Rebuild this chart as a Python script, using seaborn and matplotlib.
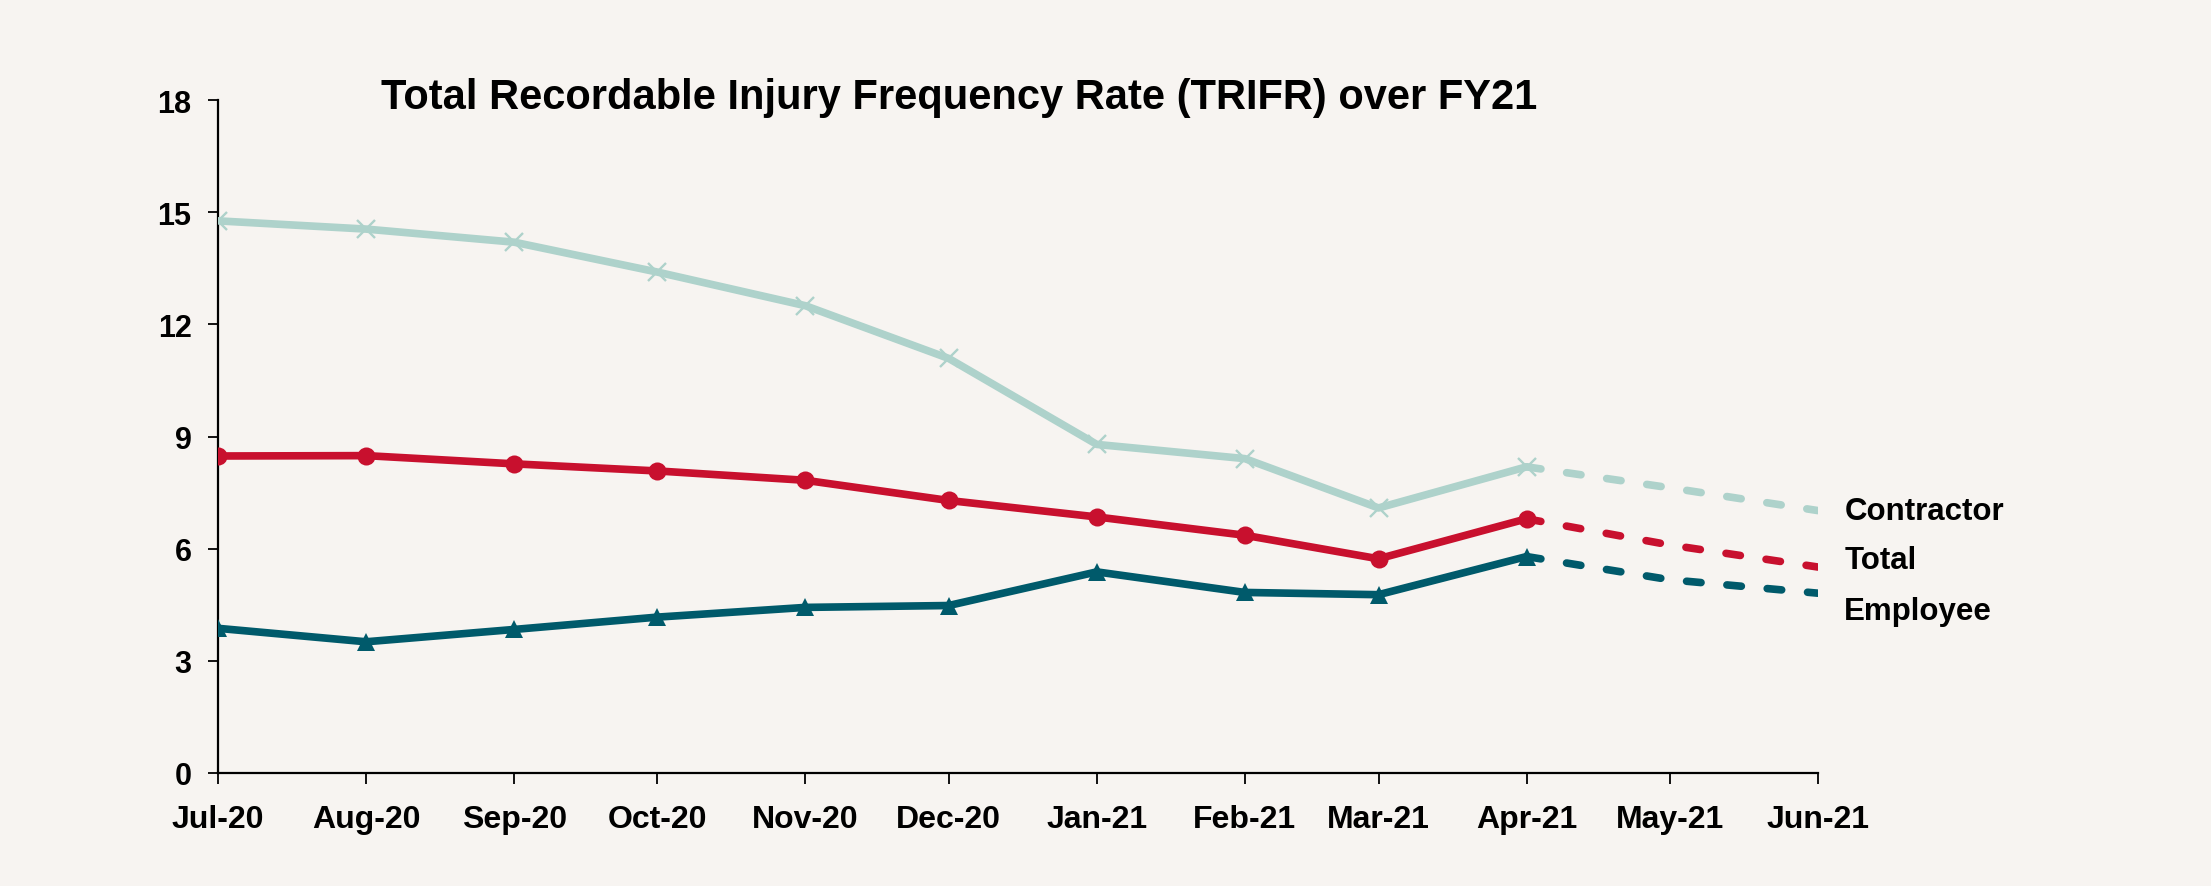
import matplotlib
matplotlib.use("Agg")
import matplotlib.pyplot as plt
import matplotlib.dates as mdates
import seaborn as sns
import pandas as pd

# Monthly TRIFR, FY21 actuals (Jul-20 to Apr-21) and outlook (Apr-21 to Jun-21)
months = ["2020-07-01", "2020-08-01", "2020-09-01", "2020-10-01", "2020-11-01",
          "2020-12-01", "2021-01-01", "2021-02-01", "2021-03-01", "2021-04-01"]
contractor = [14.77, 14.55, 14.20, 13.40, 12.50, 11.09, 8.79, 8.41, 7.09, 8.19]
total = [8.48, 8.49, 8.27, 8.08, 7.83, 7.29, 6.85, 6.36, 5.73, 6.80]
employee = [3.87, 3.51, 3.84, 4.17, 4.43, 4.48, 5.38, 4.83, 4.77, 5.79]

outlook_months = ["2021-04-01", "2021-05-01", "2021-06-01"]
contractor_outlook = [8.19, 7.63, 7.02]
total_outlook = [6.80, 6.10, 5.51]
employee_outlook = [5.79, 5.17, 4.81]

tick_months = ["2020-07-01", "2020-08-01", "2020-09-01", "2020-10-01", "2020-11-01",
               "2020-12-01", "2021-01-01", "2021-02-01", "2021-03-01", "2021-04-01",
               "2021-05-01", "2021-06-01"]
y_ticks = [0, 3, 6, 9, 12, 15, 18]

title = "Total Recordable Injury Frequency Rate (TRIFR) over FY21"

BG = "#F7F4F1"
colors = {"Contractor": "#AED2CB", "Total": "#C8102E", "Employee": "#005A6B"}

sns.set_theme(style="ticks")
plt.rcParams["font.family"] = ["Liberation Sans", "DejaVu Sans"]
plt.rcParams["font.weight"] = "bold"

actual = pd.DataFrame({
    "month": pd.to_datetime(months * 3),
    "value": contractor + total + employee,
    "series": ["Contractor"] * len(months) + ["Total"] * len(months) + ["Employee"] * len(months),
})
outlook = pd.DataFrame({
    "month": pd.to_datetime(outlook_months * 3),
    "value": contractor_outlook + total_outlook + employee_outlook,
    "series": ["Contractor"] * 3 + ["Total"] * 3 + ["Employee"] * 3,
})

fig = plt.figure(figsize=(22.11, 8.87), dpi=100, facecolor=BG)
ax = fig.add_axes([0.0986, 0.1274, 0.7236, 0.7586])
ax.set_facecolor(BG)

LW = 5.5
marker_style = {
    "Contractor": dict(marker="x", markersize=12.5, markeredgewidth=1.7),
    "Total": dict(marker="o", markersize=13, markeredgewidth=0),
    "Employee": dict(marker="^", markersize=13.5, markeredgewidth=0),
}

# dashed outlook drawn first so the April markers sit on top
for name in ["Contractor", "Total", "Employee"]:
    sub = outlook[outlook["series"] == name]
    sns.lineplot(data=sub, x="month", y="value", ax=ax, color=colors[name],
                 linewidth=LW, dashes=False, legend=False, zorder=2)
    line = ax.lines[-1]
    line.set_dashes((1.9, 3.4))
    line.set_dash_capstyle("round")

for name in ["Contractor", "Total", "Employee"]:
    sub = actual[actual["series"] == name]
    sns.lineplot(data=sub, x="month", y="value", ax=ax, color=colors[name],
                 linewidth=LW, legend=False, zorder=3,
                 markeredgecolor=colors[name], **marker_style[name])

# series labels at the end of each outlook line
label_offsets = {"Contractor": 0, "Total": 5, "Employee": -13}
for name, vals in [("Contractor", contractor_outlook), ("Total", total_outlook),
                   ("Employee", employee_outlook)]:
    ax.annotate(name, xy=(pd.Timestamp(outlook_months[-1]), vals[-1]),
                xytext=(19, label_offsets[name]), textcoords="offset points",
                ha="left", va="center", fontsize=22.5, fontweight="bold",
                color="black", annotation_clip=False)

ax.set_xlim(pd.Timestamp(tick_months[0]), pd.Timestamp(tick_months[-1]))
ax.set_ylim(0, 18)
ax.set_xticks(pd.to_datetime(tick_months))
ax.xaxis.set_major_formatter(mdates.DateFormatter("%b-%y"))
ax.set_yticks(y_ticks)
ax.set_xlabel("")
ax.set_ylabel("")

for side in ["top", "right"]:
    ax.spines[side].set_visible(False)
for side in ["left", "bottom"]:
    ax.spines[side].set_color("black")
    ax.spines[side].set_linewidth(1.6)
ax.spines["left"].set_zorder(1)

ax.tick_params(axis="x", length=8, width=1.3, color="black", pad=14,
               labelsize=23, labelcolor="black")
ax.tick_params(axis="y", length=7, width=1.3, color="black", pad=12,
               labelsize=22, labelcolor="black")
for lbl in ax.get_xticklabels() + ax.get_yticklabels():
    lbl.set_fontweight("bold")

fig.text(0.434, 0.890, title, ha="center", va="center", fontsize=30,
         fontweight="bold", color="black")

fig.savefig("out.png", dpi=100, facecolor=BG)
